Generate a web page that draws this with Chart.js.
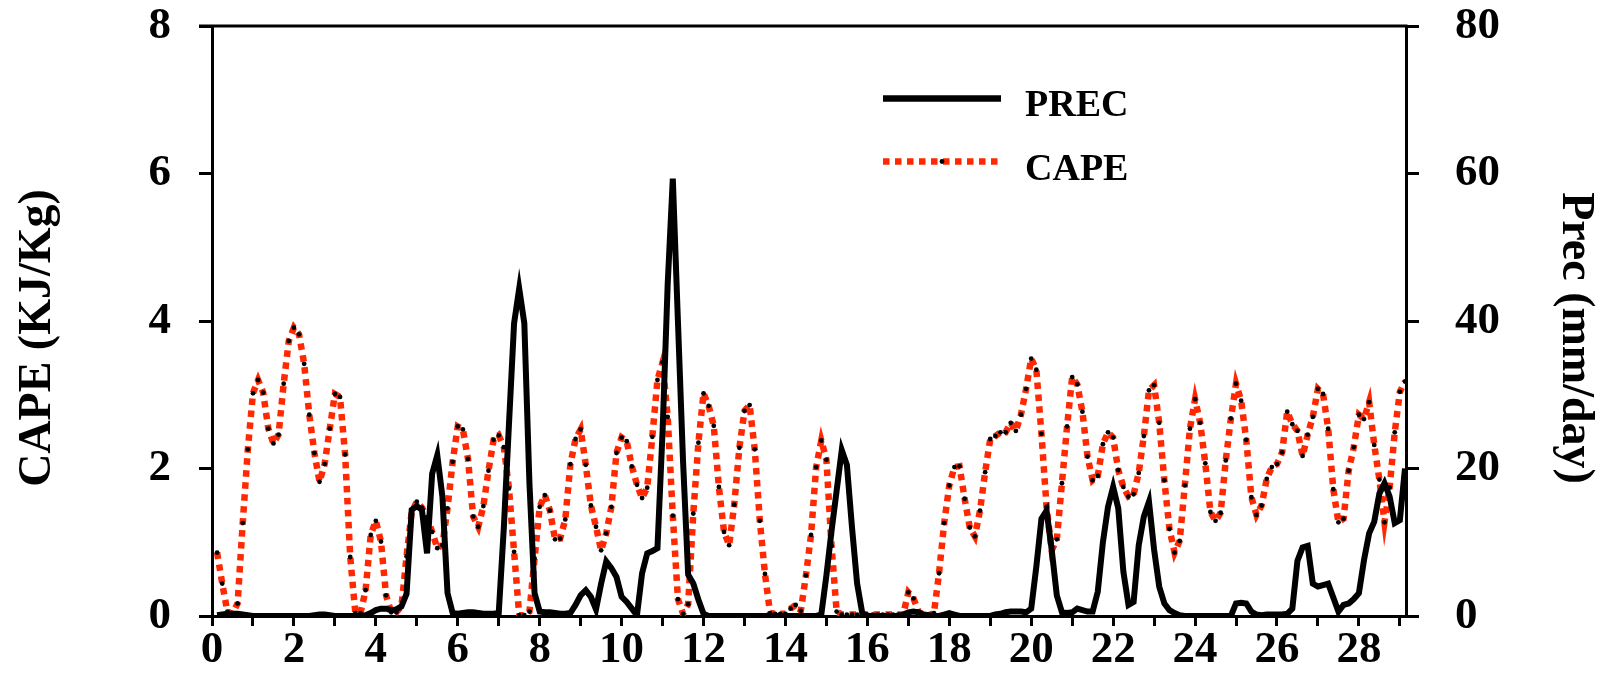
<!DOCTYPE html>
<html>
<head>
<meta charset="utf-8">
<script src="https://cdn.jsdelivr.net/npm/chart.js@4.4.1/dist/chart.umd.min.js"></script>
<style>
  html, body { margin: 0; padding: 0; background: #fff; }
  #wrap { width: 1606px; height: 678px; }
</style>
</head>
<body>
<div id="wrap"><canvas id="myChart" width="1606" height="678"></canvas></div>
<script>
// 3-hourly samples, first one at day 0.125
const STEP = 0.125;

// CAPE (KJ/Kg), one row per day
const cape = [
  0.86, 0.44, 0.06, 0.03, 0.17, 1.26, 2.26, 3.02,
  3.20, 3.03, 2.54, 2.34, 2.46, 3.15, 3.73, 3.91,
  3.82, 3.42, 2.73, 2.21, 1.82, 2.06, 2.54, 3.01,
  2.97, 2.19, 0.80, 0.04, 0.04, 0.35, 1.10, 1.29,
  1.01, 0.28, 0.05, 0.05, 0.13, 0.81, 1.41, 1.55,
  1.47, 1.34, 1.14, 0.92, 0.96, 1.46, 2.09, 2.57,
  2.53, 2.13, 1.35, 1.21, 1.49, 1.97, 2.39, 2.45,
  2.29, 1.73, 0.87, 0.01, 0.01, 0.06, 0.78, 1.48,
  1.64, 1.43, 1.04, 1.05, 1.31, 2.06, 2.40, 2.53,
  2.05, 1.50, 1.21, 0.89, 1.12, 1.48, 2.21, 2.42,
  2.37, 2.03, 1.78, 1.60, 1.74, 2.43, 3.20, 3.44,
  2.70, 1.36, 0.23, 0.03, 0.16, 1.39, 2.35, 3.02,
  2.85, 2.58, 1.75, 1.14, 0.96, 1.51, 2.28, 2.78,
  2.86, 2.26, 1.29, 0.57, 0.04, 0.03, 0.03, 0.03,
  0.10, 0.15, 0.07, 0.55, 1.10, 2.02, 2.38, 2.12,
  0.95, 0.06, 0.02, 0.02, 0.02, 0.02, 0.02, 0.02,
  0.02, 0.02, 0.02, 0.02, 0.02, 0.02, 0.02, 0.32,
  0.24, 0.06, 0.01, 0.01, 0.04, 0.58, 1.26, 1.77,
  2.02, 2.03, 1.59, 1.20, 1.08, 1.43, 1.95, 2.40,
  2.44, 2.49, 2.49, 2.62, 2.51, 2.73, 3.08, 3.49,
  3.34, 2.47, 1.48, 0.89, 1.04, 1.80, 2.57, 3.24,
  3.14, 2.77, 2.16, 1.84, 1.90, 2.33, 2.49, 2.42,
  1.98, 1.75, 1.62, 1.65, 1.94, 2.44, 3.06, 3.13,
  2.62, 1.84, 1.18, 0.86, 1.02, 1.77, 2.54, 2.94,
  2.62, 2.07, 1.41, 1.29, 1.40, 2.11, 2.68, 3.15,
  2.92, 2.39, 1.61, 1.37, 1.50, 1.86, 2.02, 2.06,
  2.22, 2.77, 2.60, 2.51, 2.17, 2.46, 2.70, 3.08,
  3.01, 2.54, 1.72, 1.27, 1.32, 1.97, 2.29, 2.73,
  2.67, 2.90, 2.32, 1.85, 1.27, 1.74, 2.49, 3.04,
  3.18
];

// Prec (mm/day), one row per day
const prec = [
  0.1, 0.2, 0.3, 0.3, 0.3, 0.2, 0.1, 0,
  0, 0, 0, 0, 0, 0, 0, 0,
  0, 0, 0, 0.1, 0.2, 0.2, 0.1, 0,
  0, 0, 0, 0, 0, 0.1, 0.4, 0.8,
  1.0, 1.0, 0.8, 0.9, 1.3, 3.0, 14.4, 14.9,
  14.4, 8.5, 19.3, 21.8, 16.2, 3.1, 0.4, 0.3,
  0.4, 0.5, 0.5, 0.4, 0.3, 0.3, 0.3, 0.4,
  12, 26, 39.7, 44.4, 39.7, 18, 3.1, 0.6,
  0.5, 0.5, 0.4, 0.3, 0.3, 0.4, 1.5, 2.8,
  3.5, 2.6, 0.9, 4.4, 7.4, 6.5, 5.3, 2.6,
  1.9, 1.0, 0.1, 5.8, 8.5, 8.8, 9.2, 25,
  45, 59.3, 40, 21, 5.6, 4.4, 2.2, 0.3,
  0, 0, 0, 0, 0, 0, 0, 0,
  0, 0, 0, 0, 0, 0, 0, 0,
  0, 0, 0, 0, 0, 0, 0.2, 5.5,
  11.5, 17, 22.5, 20.5, 12, 4.4, 0.4, 0,
  0, 0, 0, 0, 0, 0, 0.2, 0.5,
  0.6, 0.5, 0.2, 0.1, 0, 0, 0.2, 0.4,
  0.2, 0, 0, 0, 0, 0, 0, 0,
  0.2, 0.3, 0.5, 0.6, 0.6, 0.6, 0.5, 1.0,
  6.7, 13.2, 14.3, 9.0, 2.8, 0.5, 0.4, 0.5,
  1.0, 0.8, 0.6, 0.6, 3.3, 10, 14.8, 17.5,
  14.6, 6, 1.5, 1.9, 9.6, 13.5, 15.5, 9,
  4, 1.7, 0.8, 0.4, 0.1, 0, 0, 0,
  0, 0, 0, 0, 0, 0, 0, 1.7,
  1.8, 1.7, 0.6, 0.2, 0.1, 0.2, 0.2, 0.2,
  0.2, 0.3, 1.0, 7.5, 9.3, 9.5, 4.4, 4.0,
  4.2, 4.4, 2.5, 0.6, 1.5, 1.7, 2.3, 3.1,
  7.6, 11.2, 12.8, 16.6, 18.0, 16.2, 12.6, 13.0,
  20.0
];

const xMax = 29.15;
const capeTicks = [0, 8, 2];   // min, max, step
const precTicks = [0, 80, 20];
const leftTitle = 'CAPE (KJ/Kg)';
const rightTitle = 'Prec (mm/day)';

const CAPE_RED = 'rgb(255,40,0)';
const serif = 'Liberation Serif';

function toPoints(arr) {
  return arr.map((v, i) => ({ x: (i + 1) * STEP, y: v }));
}

// vertical axes: no extra room for half labels, fixed width
function fixWidth(w) {
  return function (s) {
    s.width = w;
    s.paddingTop = 0;
    s.paddingBottom = 0;
  };
}

// legend, axis titles and top frame line
const extras = {
  id: 'extras',
  afterDraw(chart) {
    const c = chart.ctx;
    const a = chart.chartArea;
    c.save();
    // top frame
    c.strokeStyle = '#000';
    c.lineWidth = 3;
    c.beginPath();
    c.moveTo(a.left - 13, a.top);
    c.lineTo(a.right + 1.5, a.top);
    c.stroke();

    // legend
    c.lineWidth = 6.5;
    c.beginPath();
    c.moveTo(883, 98.5);
    c.lineTo(1001, 98.5);
    c.stroke();

    c.strokeStyle = CAPE_RED;
    c.setLineDash([6.5, 5.5]);
    c.beginPath();
    c.moveTo(883, 161.5);
    c.lineTo(1001, 161.5);
    c.stroke();
    c.setLineDash([]);
    c.fillStyle = '#000';
    c.beginPath();
    c.arc(942, 161.5, 2.4, 0, Math.PI * 2);
    c.fill();

    c.font = 'bold 38px "' + serif + '"';
    c.textAlign = 'left';
    c.textBaseline = 'alphabetic';
    c.fillText('PREC', 1025, 116);
    c.fillText('CAPE', 1025, 180);

    // axis titles (sit a little below the middle of the axes)
    c.font = 'bold 46px "' + serif + '"';
    c.textAlign = 'center';
    c.textBaseline = 'middle';
    c.save();
    c.translate(38, 338);
    c.rotate(-Math.PI / 2);
    c.fillText(leftTitle, 0, 0);
    c.restore();
    c.save();
    c.translate(1575, 338);
    c.rotate(Math.PI / 2);
    c.fillText(rightTitle, 0, 0);
    c.restore();
    c.restore();
  }
};

const tickFont = { family: serif, weight: 'bold', size: 45, lineHeight: 1 };

const ctx = document.getElementById('myChart').getContext('2d');
const myChart = new Chart(ctx, {
  type: 'line',
  data: {
    datasets: [
      {
        label: 'PREC',
        data: toPoints(prec),
        yAxisID: 'y1',
        borderColor: '#000',
        borderWidth: 6,
        pointRadius: 0,
        tension: 0,
        fill: false
      },
      {
        label: 'CAPE',
        data: toPoints(cape),
        yAxisID: 'y',
        borderColor: CAPE_RED,
        borderWidth: 6.5,
        borderDash: [6.5, 5.5],
        pointRadius: 2.4,
        pointBackgroundColor: '#000',
        pointBorderWidth: 0,
        tension: 0,
        fill: false
      }
    ]
  },
  options: {
    responsive: false,
    animation: false,
    devicePixelRatio: 1,
    layout: { padding: { top: 26, left: 0, right: 0, bottom: 0 } },
    plugins: {
      legend: { display: false },
      tooltip: { enabled: false }
    },
    scales: {
      x: {
        type: 'linear',
        min: 0,
        max: xMax,
        afterFit(s) { s.height = 62; },
        border: { color: '#000', width: 3 },
        grid: { drawOnChartArea: false, color: '#000', lineWidth: 3, tickLength: 10 },
        ticks: {
          stepSize: 1,
          includeBounds: false,
          autoSkip: false,
          maxRotation: 0,
          padding: 2,
          color: '#000',
          font: tickFont,
          callback: v => (v % 2 === 0 ? String(v) : '')
        }
      },
      y: {
        position: 'left',
        min: capeTicks[0],
        max: capeTicks[1],
        afterFit: fixWidth(212),
        border: { color: '#000', width: 3 },
        grid: { drawOnChartArea: false, color: '#000', lineWidth: 3, tickLength: 13 },
        ticks: { stepSize: capeTicks[2], padding: 28, color: '#000', font: tickFont }
      },
      y1: {
        position: 'right',
        min: precTicks[0],
        max: precTicks[1],
        afterFit: fixWidth(200),
        border: { color: '#000', width: 3 },
        grid: { drawOnChartArea: false, color: '#000', lineWidth: 3, tickLength: 13 },
        ticks: { stepSize: precTicks[2], padding: 36, color: '#000', font: tickFont }
      }
    }
  },
  plugins: [extras]
});
</script>
</body>
</html>
